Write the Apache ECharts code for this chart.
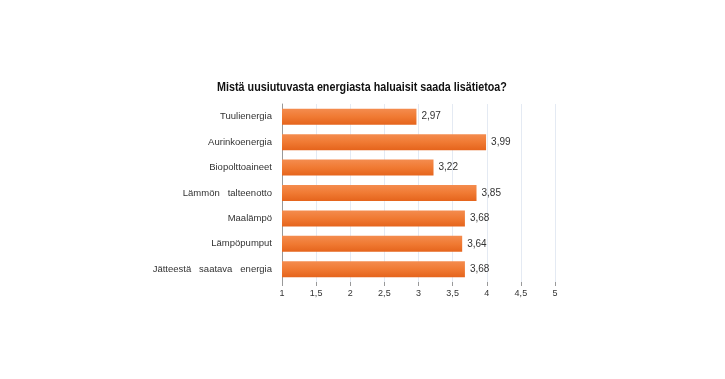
<!DOCTYPE html>
<html><head><meta charset="utf-8">
<script src="https://cdn.jsdelivr.net/npm/echarts@6/dist/echarts.min.js"></script>
<style>html,body{margin:0;padding:0;background:#fff}#c{width:725px;height:379px}</style>
</head><body><div id="c"></div>
<script>
const categories = ["Tuulienergia","Aurinkoenergia","Biopolttoaineet","Lämmön talteenotto","Maalämpö","Lämpöpumput","Jätteestä saatava energia"];
const values = [2.97, 3.99, 3.22, 3.85, 3.68, 3.64, 3.68];
const title = "Mistä uusiutuvasta energiasta haluaisit saada lisätietoa?";
const fmt = v => String(v).replace('.', ',');
const chart = echarts.init(document.getElementById('c'));
chart.setOption({
  animation:false,
  graphic:[{type:'text',x:362,y:88,scaleX:0.86,originX:0,originY:0,
    style:{text:title,align:'center',verticalAlign:'middle',font:'bold 12.5px "Liberation Sans"',fill:'#111'}}],
  grid:{left:282,right:170,top:104,height:178},
  xAxis:{type:'value',min:1,max:5,interval:0.5,
    axisLine:{show:false},
    axisTick:{show:true,length:4,lineStyle:{color:'#999'}},
    splitLine:{show:true,lineStyle:{color:'#e4eaf3',width:1}},
    axisLabel:{formatter:v=>fmt(v),fontFamily:'Liberation Sans',fontSize:9,color:'#333',margin:7}},
  yAxis:{type:'category',data:categories,inverse:true,
    axisLine:{show:true,lineStyle:{color:'#999'}},
    axisTick:{show:false},
    axisLabel:{fontFamily:'Liberation Sans',fontSize:9.5,color:'#333',margin:10,
      formatter:v=>v.split(' ').join('   ')}},
  series:[{type:'bar',data:values,barWidth:16,
    itemStyle:{color:new echarts.graphic.LinearGradient(0,0,0,1,[{offset:0,color:'#f48c4f'},{offset:0.5,color:'#f07a33'},{offset:1,color:'#e5641c'}])},
    label:{show:true,position:'right',distance:5,formatter:p=>fmt(p.value),fontFamily:'Liberation Sans',fontSize:10,color:'#333'}}]
});
</script></body></html>
